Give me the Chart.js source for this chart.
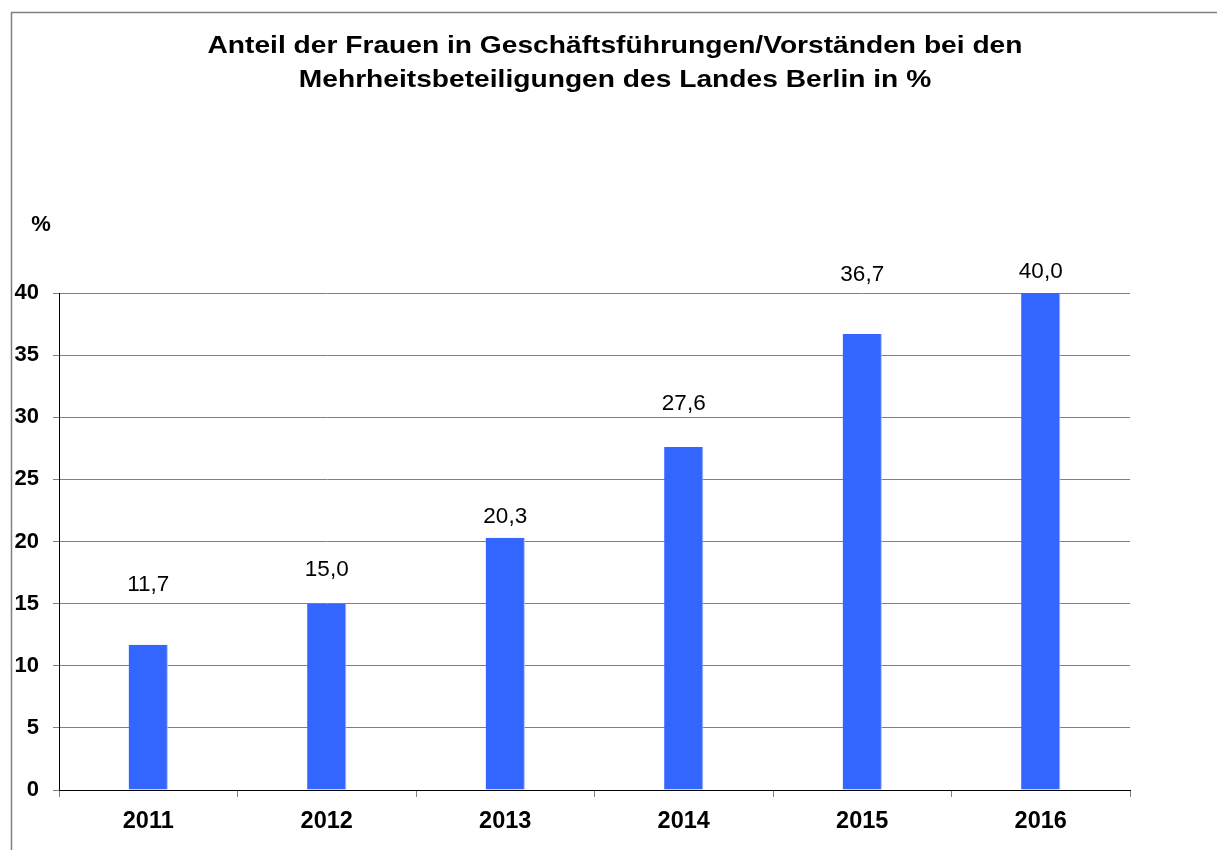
<!DOCTYPE html>
<html>
<head>
<meta charset="utf-8">
<script src="https://cdn.jsdelivr.net/npm/chart.js@4/dist/chart.umd.min.js"></script>
<style>
  html, body { margin: 0; padding: 0; background: #fff; }
  #wrap { width: 1217px; height: 850px; position: relative; }
</style>
</head>
<body>
<div id="wrap"><canvas id="c" width="1217" height="850"></canvas></div>
<script>
const TITLE_LINES = [
  "Anteil der Frauen in Geschäftsführungen/Vorständen bei den",
  "Mehrheitsbeteiligungen des Landes Berlin in %"
];
const Y_UNIT = "%";
const CATEGORIES = ["2011", "2012", "2013", "2014", "2015", "2016"];
const SHARE_WOMEN = [11.7, 15.0, 20.3, 27.6, 36.7, 40.0];
const Y_MIN = 0, Y_MAX = 40, Y_STEP = 5;

const FONT = "'Liberation Sans', Arial, sans-serif";

const decor = {
  id: 'decor',
  beforeDraw(chart) {
    const ctx = chart.ctx;
    ctx.save();
    ctx.fillStyle = '#fff';
    ctx.fillRect(0, 0, chart.width, chart.height);
    ctx.strokeStyle = '#808080';
    ctx.lineWidth = 1.5;
    ctx.strokeRect(11.5, 12.5, 1300, 1000);
    ctx.restore();
  },
  afterDraw(chart, args, opts) {
    const ctx = chart.ctx;
    ctx.save();
    ctx.fillStyle = '#000';
    ctx.textAlign = 'center';
    ctx.font = "bold 24px " + FONT;
    const sx = 815 / ctx.measureText(TITLE_LINES[0]).width;
    ctx.textBaseline = 'alphabetic';
    TITLE_LINES.forEach((t, i) => {
      ctx.save();
      ctx.translate(615, 52.5 + i * 34);
      ctx.scale(sx, 1);
      ctx.fillText(t, 0, 0);
      ctx.restore();
    });
    ctx.textBaseline = 'middle';
    ctx.font = "bold 22px " + FONT;
    ctx.fillText(Y_UNIT, 41, 225);
    // value labels
    ctx.font = "22.5px " + FONT;
    const meta = chart.getDatasetMeta(0);
    meta.data.forEach((bar, i) => {
      const v = chart.data.datasets[0].data[i];
      const txt = v.toFixed(1).replace('.', ',');
      ctx.fillText(txt, bar.x, bar.y - opts.offsets[i]);
    });
    ctx.restore();
  }
};

new Chart(document.getElementById('c'), {
  type: 'bar',
  data: {
    labels: CATEGORIES,
    datasets: [{
      data: SHARE_WOMEN,
      backgroundColor: '#3366FF',
      borderColor: '#A9BDFF',
      borderWidth: { right: 1 },
      borderSkipped: 'bottom',
      categoryPercentage: 1.0,
      barPercentage: 0.22
    }]
  },
  options: {
    responsive: false,
    animation: false,
    layout: { padding: { left: 0, top: 293, right: 87, bottom: 0 } },
    plugins: {
      legend: { display: false },
      title: { display: false },
      tooltip: { enabled: false },
      decor: { offsets: [60, 34, 21, 43, 59, 21] }
    },
    scales: {
      x: {
        grid: { display: true, drawOnChartArea: false, drawTicks: true, tickLength: 7, color: '#808080', offset: true },
        border: { display: true, color: '#000', width: 1 },
        ticks: { color: '#000', font: { family: FONT, size: 23.5, weight: 'bold' }, padding: 10, maxRotation: 0 },
        afterFit(scale) { scale.height = 60; }
      },
      y: {
        min: Y_MIN, max: Y_MAX,
        grid: { color: '#808080', tickLength: 6, drawTicks: true },
        border: { display: true, color: '#000', width: 1 },
        ticks: { stepSize: Y_STEP, color: '#000', font: { family: FONT, size: 22, weight: 'bold' }, padding: 14 },
        afterFit(scale) { scale.width = 59; }
      }
    }
  },
  plugins: [decor]
});
</script>
</body>
</html>
